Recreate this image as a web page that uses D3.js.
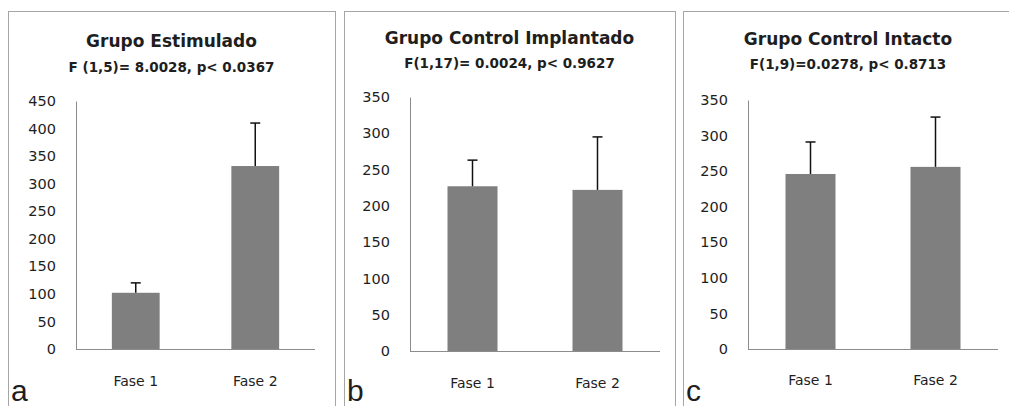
<!DOCTYPE html>
<html><head><meta charset="utf-8">
<script src="https://cdn.jsdelivr.net/npm/d3@7"></script>
<style>
body{margin:0;background:#fff;}
svg{display:block;}
text{font-family:"DejaVu Sans",sans-serif;fill:#1e1e1e;}
</style></head>
<body>
<svg id="chart" width="1009" height="406"></svg>
<script>
const categories = ["Fase 1", "Fase 2"];
const panelTitles = ["Grupo Estimulado", "Grupo Control Implantado", "Grupo Control Intacto"];
const panelStats = ["F (1,5)= 8.0028, p< 0.0367", "F(1,17)= 0.0024, p< 0.9627", "F(1,9)=0.0278, p< 0.8713"];
const panelLetters = ["a", "b", "c"];
const estimuladoMeans = [102, 332];
const estimuladoErrors = [18, 78];
const implantadoMeans = [227, 222];
const implantadoErrors = [36, 73];
const intactoMeans = [246, 256];
const intactoErrors = [45, 70];
const ticksA = [0, 50, 100, 150, 200, 250, 300, 350, 400, 450];
const ticksBC = [0, 50, 100, 150, 200, 250, 300, 350];

const panels = [
  {title: panelTitles[0], stat: panelStats[0], letter: panelLetters[0], means: estimuladoMeans, errs: estimuladoErrors, ticks: ticksA,
   box: [8, 11, 327], ax: [76, 315], ay: [349, 101], tY: 47, sY: 72, fY: 386},
  {title: panelTitles[1], stat: panelStats[1], letter: panelLetters[1], means: implantadoMeans, errs: implantadoErrors, ticks: ticksBC,
   box: [344, 11, 331], ax: [410, 660], ay: [351, 97], tY: 44, sY: 68, fY: 388},
  {title: panelTitles[2], stat: panelStats[2], letter: panelLetters[2], means: intactoMeans, errs: intactoErrors, ticks: ticksBC,
   box: [683, 11, 330], ax: [748, 998], ay: [349, 100], tY: 45, sY: 69, fY: 385}
];

const svg = d3.select("#chart");

panels.forEach(p => {
  const g = svg.append("g");
  const [bx, by, bw] = p.box;
  g.append("rect").attr("x", bx + 0.5).attr("y", by + 0.5).attr("width", bw).attr("height", 420)
    .attr("fill", "#fff").attr("stroke", "#a6a6a6").attr("stroke-width", 1);
  const cx = bx + bw / 2;
  g.append("text").attr("x", cx).attr("y", p.tY).attr("text-anchor", "middle")
    .style("font-size", "17px").style("font-weight", "700").text(p.title);
  g.append("text").attr("x", cx).attr("y", p.sY).attr("text-anchor", "middle")
    .style("font-size", "13.5px").style("font-weight", "700").text(p.stat);

  const x = d3.scaleBand().domain(categories).range(p.ax).paddingInner(0.6).paddingOuter(0.3);
  const y = d3.scaleLinear().domain([0, d3.max(p.ticks)]).range(p.ay);

  // y axis
  const yAxis = d3.axisLeft(y).tickValues(p.ticks).tickSize(0).tickPadding(20).tickFormat(d3.format("d"));
  const ya = g.append("g").attr("transform", `translate(${p.ax[0]},0)`).call(yAxis);
  ya.select(".domain").attr("stroke", "#8c8c8c");
  ya.selectAll("text").style("font-size", "14.5px").style("font-family", "'DejaVu Sans',sans-serif").attr("fill", "#1e1e1e");

  // bars
  g.selectAll(".bar").data(categories).join("rect")
    .attr("x", d => x(d)).attr("width", x.bandwidth())
    .attr("y", (d, i) => y(p.means[i])).attr("height", (d, i) => y(0) - y(p.means[i]))
    .attr("fill", "#7f7f7f");

  // x axis line
  const xa = g.append("g").attr("transform", `translate(0,${p.ay[0]})`)
    .call(d3.axisBottom(x).tickSize(0).tickFormat(""));
  xa.select(".domain").attr("stroke", "#8c8c8c").attr("d", `M${p.ax[0]},0.5H${p.ax[1]}`);

  // category labels
  g.selectAll(".cat").data(categories).join("text")
    .attr("x", d => x(d) + x.bandwidth() / 2).attr("y", p.fY).attr("text-anchor", "middle")
    .style("font-size", "14px").text(d => d);

  // error bars
  const eb = g.selectAll(".err").data(categories).join("g");
  eb.append("line")
    .attr("x1", d => x(d) + x.bandwidth() / 2).attr("x2", d => x(d) + x.bandwidth() / 2)
    .attr("y1", (d, i) => y(p.means[i])).attr("y2", (d, i) => y(p.means[i] + p.errs[i]))
    .attr("stroke", "#111").attr("stroke-width", 1.5);
  eb.append("line")
    .attr("x1", d => x(d) + x.bandwidth() / 2 - 5).attr("x2", d => x(d) + x.bandwidth() / 2 + 5)
    .attr("y1", (d, i) => y(p.means[i] + p.errs[i])).attr("y2", (d, i) => y(p.means[i] + p.errs[i]))
    .attr("stroke", "#111").attr("stroke-width", 1.5);

  g.append("text").attr("x", bx + 3).attr("y", 401)
    .style("font-family", "'Liberation Sans',Arial,sans-serif").style("font-size", "30px").text(p.letter);
});
</script>
</body></html>
